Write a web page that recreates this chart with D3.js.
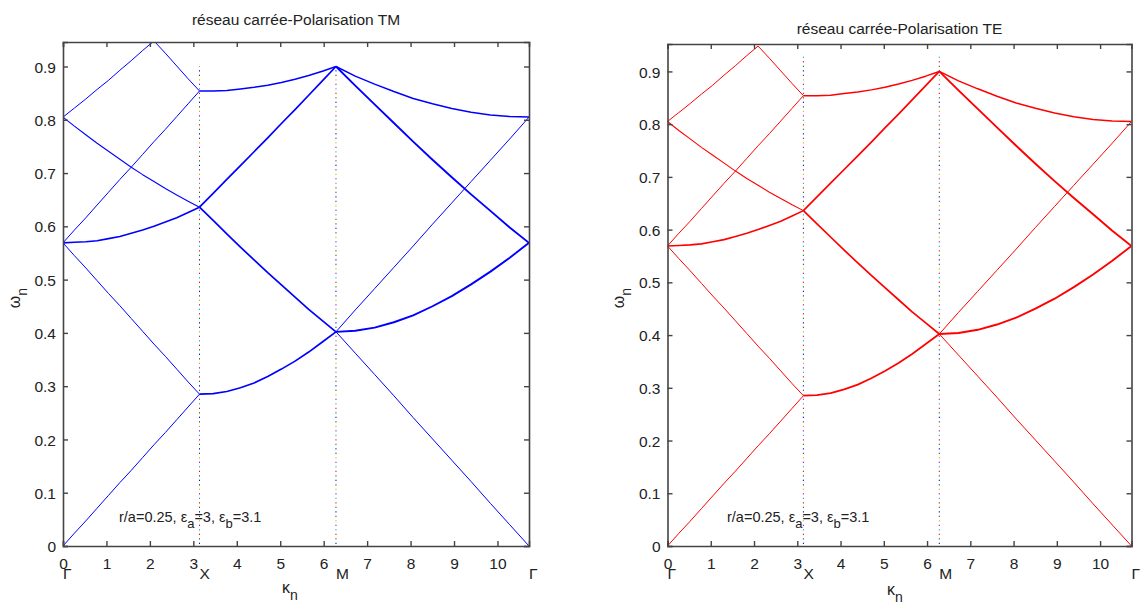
<!DOCTYPE html>
<html>
<head>
<meta charset="utf-8">
<script src="https://cdn.jsdelivr.net/npm/d3@7/dist/d3.min.js"></script>
<style>
  html, body { margin: 0; padding: 0; background: #fff; }
  svg { display: block; }
  text { font-family: "Liberation Sans Narrow", "Arial Narrow", "Liberation Sans", Arial, sans-serif; fill: #222; }
</style>
</head>
<body>
<svg id="chart" width="1145" height="608"></svg>
<script>
// ---------- DATA ----------
// path coordinate along Γ -> X -> M -> Γ
const kGX = [0, 0.262, 0.524, 0.785, 1.047, 1.309, 1.571, 1.833, 2.094, 2.356, 2.618, 2.880, 3.142];
const kXM = [3.142, 3.456, 3.770, 4.084, 4.398, 4.712, 5.027, 5.341, 5.655, 5.969, 6.283];
const kMG = [6.283, 6.727, 7.172, 7.616, 8.060, 8.505, 8.949, 9.393, 9.838, 10.282, 10.726];

// Γ -> X segment curves (ω_n)
const gxBand1 = [0, 0.024, 0.047, 0.071, 0.095, 0.119, 0.142, 0.166, 0.190, 0.213, 0.237, 0.261, 0.285];
const gxBand2 = [0.569, 0.545, 0.522, 0.498, 0.474, 0.451, 0.427, 0.403, 0.379, 0.356, 0.332, 0.308, 0.285];
const gxBand3 = [0.569, 0.570, 0.571, 0.573, 0.577, 0.581, 0.587, 0.593, 0.600, 0.608, 0.616, 0.626, 0.636];
const gxBand4 = [0.569, 0.593, 0.616, 0.640, 0.664, 0.688, 0.711, 0.735, 0.759, 0.782, 0.806, 0.830, 0.854];
const gxBand5 = [0.805, 0.788, 0.772, 0.756, 0.741, 0.726, 0.711, 0.697, 0.684, 0.671, 0.659, 0.647, 0.636];
const gxBand6 = [0.805, 0.822, 0.839, 0.857, 0.874, 0.893, 0.911, 0.930, 0.948, 0.925, 0.901, 0.877, 0.854];

// X -> M segment curves
const xmBand1 = [0.285, 0.286, 0.290, 0.297, 0.306, 0.318, 0.332, 0.347, 0.364, 0.383, 0.402];
const xmBand2 = [0.636, 0.611, 0.586, 0.561, 0.537, 0.513, 0.490, 0.467, 0.444, 0.423, 0.402];
const xmBand3 = [0.636, 0.662, 0.688, 0.714, 0.740, 0.766, 0.793, 0.819, 0.846, 0.873, 0.900];
const xmBand4 = [0.854, 0.854, 0.855, 0.858, 0.861, 0.865, 0.870, 0.876, 0.883, 0.891, 0.900];

// M -> Γ segment curves
const mgBand1 = [0.402, 0.362, 0.322, 0.282, 0.241, 0.201, 0.161, 0.121, 0.080, 0.040, 0];
const mgBand2 = [0.402, 0.443, 0.483, 0.523, 0.563, 0.604, 0.644, 0.684, 0.724, 0.764, 0.805];
const mgBand3 = [0.402, 0.404, 0.410, 0.420, 0.433, 0.450, 0.469, 0.491, 0.515, 0.541, 0.569];
const mgBand4 = [0.900, 0.864, 0.829, 0.794, 0.759, 0.725, 0.692, 0.660, 0.629, 0.598, 0.569];
const mgBand5 = [0.900, 0.882, 0.867, 0.853, 0.840, 0.830, 0.821, 0.814, 0.809, 0.806, 0.805];

const xTicks = [0, 1, 2, 3, 4, 5, 6, 7, 8, 9, 10];
const xTickLabels = ["0", "1", "2", "3", "4", "5", "6", "7", "8", "9", "10"];
const yTicks = [0, 0.1, 0.2, 0.3, 0.4, 0.5, 0.6, 0.7, 0.8, 0.9];
const yTickLabels = ["0", "0.1", "0.2", "0.3", "0.4", "0.5", "0.6", "0.7", "0.8", "0.9"];
const symPointK = [0, 3.1416, 6.2832, 10.726];
const symPointLabels = ["Γ", "X", "M", "Γ"];
const markerK = [3.1416, 6.2832];
const kMax = 10.726;
const titles = ["réseau carrée-Polarisation TM", "réseau carrée-Polarisation TE"];

// ---------- build curve list ----------
const curves = [
  {k: kGX, w: gxBand1}, {k: kGX, w: gxBand2}, {k: kGX, w: gxBand3}, {k: kGX, w: gxBand4},
  {k: kGX, w: gxBand5}, {k: kGX, w: gxBand6},
  {k: kXM, w: xmBand1}, {k: kXM, w: xmBand2}, {k: kXM, w: xmBand3}, {k: kXM, w: xmBand4},
  {k: kMG, w: mgBand1}, {k: kMG, w: mgBand2}, {k: kMG, w: mgBand3}, {k: kMG, w: mgBand4}, {k: kMG, w: mgBand5}
];
// stroke widths (styling, degenerate bands look thicker)
const curveWidths = [1, 1, 1.6, 1, 1.1, 1, 1.7, 1.7, 1.7, 1.5, 1, 1, 1.9, 1.9, 1.5];

const dotColors = ["#0000ff", "#008000", "#ff0000", "#00bfbf", "#bf00bf", "#bfbf00", "#404040"];

const svg = d3.select("#chart");
svg.append("rect").attr("width", 1145).attr("height", 608).attr("fill", "#fff");

const panels = [
  {x0: 63, x1: 529, y0: 42, y1: 546, yMax: 0.946, color: "#0000ff", title: titles[0], titleY: 25, dotTop: 0.9,
   ann: [119, 522], klab: [290, 593], wlab: [20, 298]},
  {x0: 667.5, x1: 1131.5, y0: 44, y1: 546, yMax: 0.952, color: "#ff0000", title: titles[1], titleY: 34, dotTop: 0.932,
   ann: [727, 522], klab: [895, 595], wlab: [624, 298]}
];

panels.forEach((p, pi) => {
  const x = d3.scaleLinear().domain([0, kMax]).range([p.x0, p.x1]);
  const y = d3.scaleLinear().domain([0, p.yMax]).range([p.y1, p.y0]);
  const g = svg.append("g");

  const clipId = "clip" + pi;
  svg.append("clipPath").attr("id", clipId).append("rect")
    .attr("x", p.x0).attr("y", p.y0).attr("width", p.x1 - p.x0).attr("height", p.y1 - p.y0);

  // dotted multicolour vertical markers
  markerK.forEach(kv => {
    dotColors.forEach((c, ci) => {
      g.append("line")
        .attr("x1", x(kv)).attr("x2", x(kv))
        .attr("y1", y(0)).attr("y2", y(p.dotTop))
        .attr("stroke", c).attr("stroke-width", 1)
        .attr("stroke-dasharray", "1.3 30.2")
        .attr("stroke-dashoffset", -4.5 * ci - 2);
    });
  });

  // band curves
  const line = d3.line().x(d => d[0]).y(d => d[1]);
  const cg = g.append("g").attr("clip-path", `url(#${clipId})`);
  curves.forEach((c, ci) => {
    const pts = c.w.map((w, i) => [x(c.k[i]), y(w)]);
    cg.append("path").attr("d", line(pts))
      .attr("fill", "none").attr("stroke", p.color)
      .attr("stroke-width", curveWidths[ci]).attr("stroke-linejoin", "round");
  });

  // axes
  const axColor = "#444";
  const bottom = g.append("g").attr("transform", `translate(0,${p.y1})`)
    .call(d3.axisBottom(x).tickValues(xTicks).tickFormat((d, i) => xTickLabels[i]).tickSize(-5).tickPadding(14));
  const top = g.append("g").attr("transform", `translate(0,${p.y0})`)
    .call(d3.axisTop(x).tickValues(xTicks).tickFormat("").tickSize(-5));
  const left = g.append("g").attr("transform", `translate(${p.x0},0)`)
    .call(d3.axisLeft(y).tickValues(yTicks).tickFormat((d, i) => yTickLabels[i]).tickSize(-5).tickPadding(7));
  const right = g.append("g").attr("transform", `translate(${p.x1},0)`)
    .call(d3.axisRight(y).tickValues(yTicks).tickFormat("").tickSize(-5));
  [bottom, top, left, right].forEach(a => {
    a.select(".domain").attr("stroke", axColor).attr("stroke-width", 1.6);
    a.selectAll(".tick line").attr("stroke", axColor).attr("stroke-width", 1.4);
    a.selectAll(".tick text").attr("font-size", 15.5)
      .attr("font-family", '"Liberation Sans Narrow", "Arial Narrow", "Liberation Sans", Arial, sans-serif')
      .attr("fill", "#222");
  });
  bottom.selectAll(".tick text").attr("dy", "0.55em");
  left.selectAll(".tick text").attr("dy", "0.36em");

  // symmetry point labels
  symPointK.forEach((kv, i) => {
    g.append("text").attr("x", x(kv)).attr("y", p.y1 + 33)
      .attr("font-size", 15.5).attr("text-anchor", "start")
      .text(symPointLabels[i]);
  });

  // title
  g.append("text").attr("x", (p.x0 + p.x1) / 2).attr("y", p.titleY)
    .attr("text-anchor", "middle").attr("font-size", 15.5).text(p.title);

  // x label κ_n
  const kl = g.append("text").attr("x", p.klab[0]).attr("y", p.klab[1]).attr("font-size", 16).attr("text-anchor", "middle");
  kl.append("tspan").text("κ");
  kl.append("tspan").attr("dy", 7).attr("font-size", 14).text("n");

  // y label ω_n
  const wl = g.append("text").attr("transform", `translate(${p.wlab[0]},${p.wlab[1]}) rotate(-90)`)
    .attr("font-size", 16).attr("text-anchor", "middle");
  wl.append("tspan").text("ω");
  wl.append("tspan").attr("dy", 7).attr("font-size", 14).text("n");

  // annotation
  const an = g.append("text").attr("x", p.ann[0]).attr("y", p.ann[1]).attr("font-size", 14.5);
  an.append("tspan").text("r/a=0.25, ε");
  an.append("tspan").attr("dy", 6).attr("font-size", 13).text("a");
  an.append("tspan").attr("dy", -6).text("=3, ε");
  an.append("tspan").attr("dy", 6).attr("font-size", 13).text("b");
  an.append("tspan").attr("dy", -6).text("=3.1");
});
</script>
</body>
</html>
